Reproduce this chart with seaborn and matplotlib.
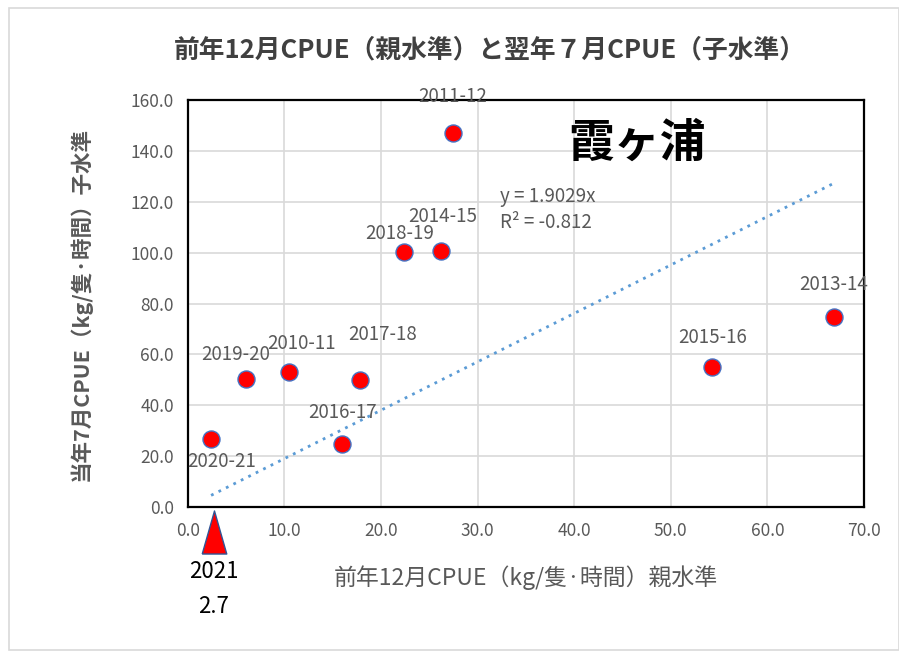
import numpy as np
import pandas as pd
import matplotlib.pyplot as plt
import seaborn as sns
from matplotlib.patches import Rectangle

# data
seasons = ['2010-11', '2011-12', '2013-14', '2014-15', '2015-16',
           '2016-17', '2017-18', '2018-19', '2019-20', '2020-21']
parent_cpue = [10.5, 27.4, 66.9, 26.2, 54.3, 16.0, 17.8, 22.4, 6.0, 2.4]
child_cpue = [53.1, 147.2, 74.8, 100.6, 55.0, 24.6, 50.0, 100.4, 50.4, 26.7]

slope = 1.9029
r2_text = 'R² = -0.812'

current_year = '2021'
current_parent = 2.7

xticks = [0, 10, 20, 30, 40, 50, 60, 70]
yticks = [0, 20, 40, 60, 80, 100, 120, 140, 160]

# label offsets (pixels) for each season
label_offsets = {
    '2010-11': (12, 28), '2011-12': (0, 36), '2013-14': (0, 32),
    '2014-15': (2, 35), '2015-16': (0, 30), '2016-17': (0, 32),
    '2017-18': (23, 45), '2018-19': (-5, 18), '2019-20': (-10, 24),
    '2020-21': (11, -22),
}

df = pd.DataFrame({'season': seasons, 'parent': parent_cpue, 'child': child_cpue})

sns.set_style('white')
plt.rcParams['font.family'] = ['Noto Sans CJK JP', 'DejaVu Sans']

grey = '#595959'
fig = plt.figure(figsize=(8.99, 6.52), dpi=100)
ax = fig.add_axes([0.209, 0.2224, 0.752, 0.6242])

# outer chart-area border
fig.patches.append(Rectangle((9 / 899, 2 / 652), 0.99, 642 / 652, transform=fig.transFigure,
                             fill=False, edgecolor='#d9d9d9', linewidth=1.2))

# trendline through origin
tx = np.array([df['parent'].min(), df['parent'].max()])
sns.lineplot(x=tx, y=slope * tx, ax=ax, color='#5b9bd5', linestyle=(0, (1, 2)),
             linewidth=2, zorder=2)

sns.scatterplot(data=df, x='parent', y='child', ax=ax, color='#ff0000', s=150,
                edgecolor='#4472c4', linewidth=1, zorder=3)

for _, r in df.iterrows():
    dx, dy = label_offsets[r['season']]
    ax.annotate(r['season'], (r['parent'], r['child']), xytext=(dx, dy),
                textcoords='offset pixels', ha='center', va='center',
                fontsize=13.5, color=grey, annotation_clip=False)

ax.set_xlim(0, 70)
ax.set_ylim(0, 160)
ax.set_xticks(xticks)
ax.set_yticks(yticks)
ax.set_xticklabels([f'{v:.1f}' for v in xticks], fontsize=12.5, color=grey)
ax.set_yticklabels([f'{v:.1f}' for v in yticks], fontsize=12.5, color=grey)
ax.tick_params(axis='x', length=0, pad=11)
ax.tick_params(axis='y', length=0, pad=10)
ax.grid(True, color='#d9d9d9', linewidth=1.2)
ax.set_axisbelow(True)
for s in ax.spines.values():
    s.set_visible(True)
    s.set_color('black')
    s.set_linewidth(1.6)

ax.set_xlabel('前年12月CPUE（kg/隻·時間）親水準', fontsize=16.5, color=grey, labelpad=18)
ax.set_ylabel('当年7月CPUE（kg/隻·時間）子水準', fontsize=15.5, color=grey,
              fontweight='bold', labelpad=28)
fig.text(0.545, 0.923, '前年12月CPUE（親水準）と翌年７月CPUE（子水準）', ha='center', va='center',
         fontsize=18.5, color='#404040', fontweight='bold')

ax.text(0.665, 0.893, '霞ヶ浦', transform=ax.transAxes, ha='center', va='center',
        fontsize=33, fontweight='bold', color='black')
ax.text(0.462, 0.762, f'y = {slope}x', transform=ax.transAxes, ha='left', va='center',
        fontsize=13.5, color=grey)
ax.text(0.462, 0.698, r2_text, transform=ax.transAxes, ha='left', va='center',
        fontsize=13.5, color=grey)

# current-year marker below the x axis
tri = [(-0.57, -1), (0.57, -1), (0, 1), (-0.57, -1)]
ax.plot([current_parent], [-0.062], transform=ax.get_xaxis_transform(), marker=tri,
        markersize=31, color='#ff0000', markeredgecolor='#2f5597', markeredgewidth=1,
        clip_on=False, linestyle='none', zorder=5)
ax.text(current_parent, -0.158, current_year, transform=ax.get_xaxis_transform(),
        ha='center', va='center', fontsize=16, color='black')
ax.text(current_parent, -0.245, f'{current_parent}', transform=ax.get_xaxis_transform(),
        ha='center', va='center', fontsize=16, color='black')

fig.savefig('out.png', dpi=100)
